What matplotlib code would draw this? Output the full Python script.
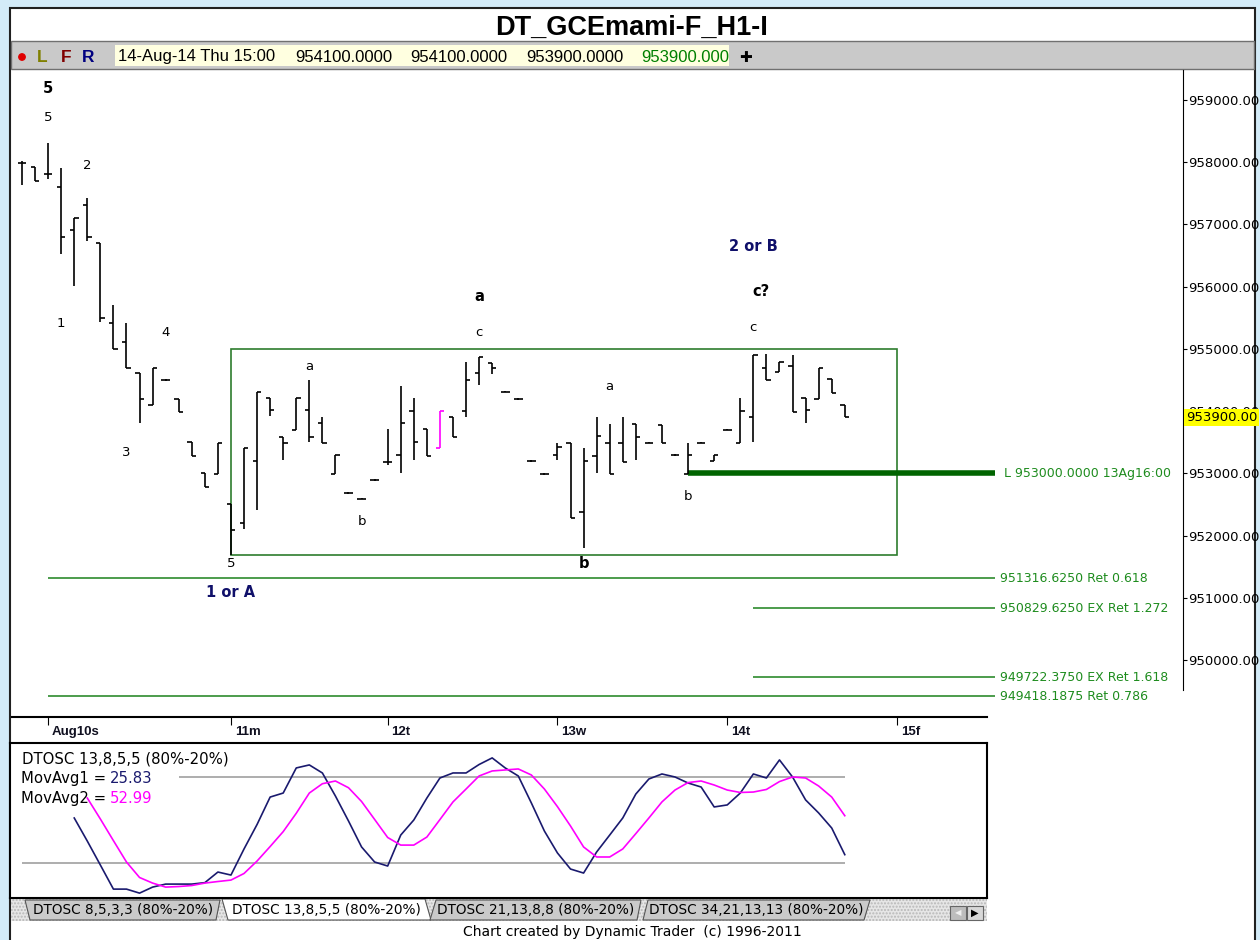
import matplotlib
matplotlib.use('Agg')
import matplotlib.pyplot as plt
from matplotlib.patches import Rectangle, Polygon, Circle
from matplotlib.transforms import blended_transform_factory
from matplotlib.ticker import FuncFormatter

plt.rcParams['font.family'] = ['DejaVu Sans']
LIB = ['Liberation Sans', 'DejaVu Sans']

# %% hourly OHLC bars, 10-Aug .. 14-Aug
bar_open = [957980, 957920, 957810, 957600, 956910, 957310, 956700, 955420, 955110, 954610,
            954100, 954500, 954195, 953500, 953000, 952990, 952510, 952200, 953200, 954210,
            953590, 953700, 954020, 953810, 952990, 952685, 952590, 952895, 953180, 953295,
            954000, 953710, 953410, 953905, 954000, 954610, 954770, 954310, 954195, 953200,
            952990, 953295, 953490, 952380, 953280, 953490, 953490, 953790, 953490, 953775,
            953295, 952985, 953490, 953200, 953700, 953490, 953905, 954690, 954630, 954720,
            954210, 954195, 954515, 954100]
bar_high = [958020, 957920, 958310, 957900, 957100, 957430, 956700, 955705, 955420, 954610,
            954690, 954520, 954195, 953500, 953000, 953490, 952510, 953410, 954310, 954210,
            953590, 954210, 954500, 953905, 953295, 952700, 952600, 952910, 953710, 954400,
            954210, 953710, 954000, 953905, 954790, 954870, 954770, 954320, 954205, 953210,
            953000, 953490, 953490, 953410, 953905, 953790, 953905, 953790, 953500, 953775,
            953305, 953490, 953500, 953295, 953710, 954210, 954900, 954920, 954790, 954900,
            954210, 954690, 954515, 954100]
bar_low = [957630, 957700, 957730, 956525, 956010, 956735, 955430, 955000, 954690, 953810,
           954100, 954480, 953985, 953280, 952780, 952990, 951690, 952100, 952410, 953920,
           953215, 953700, 953500, 953490, 952990, 952670, 952580, 952880, 953135, 953005,
           953215, 953280, 953410, 953585, 953905, 954420, 954600, 954300, 954185, 953190,
           952980, 953215, 952280, 951800, 953005, 952990, 953180, 953215, 953480, 953490,
           953285, 952985, 953480, 953200, 953690, 953490, 953500, 954500, 954630, 953985,
           953810, 954195, 954290, 953905]
bar_close = [957980, 957700, 957810, 956800, 957100, 956800, 955500, 955000, 954690, 954195,
             954690, 954500, 953985, 953280, 952780, 953490, 952090, 953410, 954310, 954020,
             953490, 954210, 953590, 953490, 953295, 952685, 952590, 952895, 953180, 953810,
             953500, 953280, 954000, 953585, 954500, 954870, 954690, 954310, 954195, 953200,
             952990, 953420, 952280, 953200, 953600, 952990, 953180, 953580, 953490, 953490,
             953295, 953295, 953490, 953295, 953700, 954000, 954900, 954500, 954790, 953985,
             954020, 954690, 954290, 953900]
pink_bar = 32

# DTOSC 13,8,5,5 and its moving average
osc_start = 4
osc_line = [51.4, 35.3, 18.6, 1.8, 1.8, -1.0, 3.2, 5.3, 5.3, 5.3, 6.3, 13.7, 11.6, 29.8, 46.9,
            66.0, 68.8, 86.3, 88.4, 82.8, 66.7, 49.3, 31.2, 20.7, 17.9, 39.5, 50.0, 65.3, 79.3,
            82.8, 82.8, 88.7, 93.3, 86.3, 80.7, 61.9, 42.3, 27.0, 15.8, 13.0, 27.7, 39.5, 51.4,
            68.1, 78.6, 82.1, 80.0, 75.8, 73.0, 59.1, 60.5, 68.8, 82.1, 79.3, 91.9, 80.0, 64.0,
            54.9, 44.4, 25.83]
ma_start = 5
ma_line = [65.3, 50.7, 35.6, 20.7, 9.9, 6.0, 3.2, 3.6, 4.3, 6.0, 7.1, 8.1, 12.7, 21.4, 31.5,
           41.9, 54.7, 68.8, 75.3, 77.2, 72.5, 62.9, 50.4, 37.8, 32.5, 32.5, 38.1, 50.3, 62.6,
           71.6, 80.7, 84.2, 84.9, 85.6, 81.4, 71.6, 59.3, 45.8, 31.2, 24.2, 24.2, 29.8, 40.5,
           51.4, 62.6, 70.9, 76.1, 77.2, 74.4, 70.9, 69.2, 69.5, 71.3, 76.8, 80.0, 79.3, 73.7,
           66.0, 52.99]
osc_bands = [80, 20]
band_from = [12, 0]

# retracement / extension levels
fib_levels = [951316.625, 950829.625, 949722.375, 949418.1875]
fib_names = ['951316.6250 Ret 0.618', '950829.6250 EX Ret 1.272',
             '949722.3750 EX Ret 1.618', '949418.1875 Ret 0.786']
fib_from = [2, 56, 56, 2]
level_end = 74.5
L_level = 953000.0
L_from = 51
L_name = 'L 953000.0000 13Ag16:00'
last_price = 953900.0

box_x = [16, 67]
box_y = [951690, 955000]

day_ticks = [2, 16, 28, 41, 54, 67]
day_labels = ['Aug10s', '11m', '12t', '13w', '14t', '15f']
price_ticks = list(range(950000, 960000, 1000))

wave_text = ['5', '5', '2', '1', '4', '3', '5', '1 or A', 'a', 'b', 'a', 'c', 'a', 'b', 'b',
             '2 or B', 'c?', 'c']
wave_x = [2, 2, 5, 3, 11, 8, 16, 16, 22, 26, 35, 35, 45, 43, 51, 56, 56.6, 56]
wave_y = [959190, 958725, 957955, 955415, 955270, 953340, 951545, 951080, 954710, 952220,
          955835, 955260, 954390, 951545, 952620, 956640, 955915, 955350]
wave_bold = [1, 0, 0, 0, 0, 0, 0, 1, 0, 0, 1, 0, 0, 1, 0, 1, 1, 0]
wave_navy = [0, 0, 0, 0, 0, 0, 0, 1, 0, 0, 0, 0, 0, 0, 0, 1, 0, 0]

toolbar_text = ['14-Aug-14 Thu 15:00', '954100.0000', '954100.0000', '953900.0000', '953900.000']

# %% figure + window chrome (pixel coordinates)
W, H = 1260, 940
fig = plt.figure(figsize=(W / 100, H / 100), dpi=100)
fig.patch.set_facecolor('#d3ebf8')

bg = fig.add_axes([0, 0, 1, 1], zorder=-5)
bg.set_xlim(0, W)
bg.set_ylim(H, 0)
bg.axis('off')
bg.add_patch(Rectangle((10, 8), 1245, 940, facecolor='white', edgecolor='#202020', lw=1.5))
bg.add_patch(Rectangle((11, 41), 1243, 28, facecolor='#c9c9c9', edgecolor='#707070', lw=1))
bg.add_patch(Rectangle((115, 45), 614, 21, facecolor='#ffffe0', edgecolor='none'))
bg.text(632, 28, 'DT_GCEmami-F_H1-I', ha='center', va='center', fontsize=19.5,
        family=LIB, fontweight='bold', color='black')
bg.add_patch(Circle((22, 57), 3.2, color='#e00000'))
for s, x, c in [('L', 37, '#808000'), ('F', 61, '#800000'), ('R', 82, '#000080')]:
    bg.text(x, 57, s, ha='left', va='center', fontsize=12.5, family=LIB, fontweight='bold',
            color=c)
for s, x, c in zip(toolbar_text, [118, 295, 410, 526, 641],
                   ['black', 'black', 'black', 'black', '#008000']):
    bg.text(x, 57, s, ha='left', va='center', fontsize=12, family=LIB, color=c)
bg.text(746, 57, '\u271a', ha='center', va='center', fontsize=11, color='black')

# tab strip
bg.add_patch(Rectangle((11, 899), 976, 22, facecolor='#e6e6e6', edgecolor='#b8b8b8',
                       hatch='.....', lw=0))
tabs = [('DTOSC 8,5,3,3 (80%-20%)', [(25, 900), (220, 900), (216, 920), (30, 920)], '#cacaca'),
        ('DTOSC 13,8,5,5 (80%-20%)', [(222, 899), (425, 899), (431, 920), (228, 920)], 'white'),
        ('DTOSC 21,13,8,8 (80%-20%)', [(436, 900), (641, 900), (637, 920), (430, 920)], '#cacaca'),
        ('DTOSC 34,21,13,13 (80%-20%)', [(648, 900), (870, 900), (864, 920), (643, 920)], '#cacaca')]
for name, pts, fc in tabs:
    bg.add_patch(Polygon(pts, closed=True, facecolor=fc, edgecolor='#555555', lw=0.8))
    cx = (pts[0][0] + pts[1][0] + pts[2][0] + pts[3][0]) / 4
    bg.text(cx, 910.5, name, ha='center', va='center', fontsize=9.8, color='black')
bg.add_patch(Rectangle((950, 906), 16, 14, facecolor='#bdbdbd', edgecolor='#666666', lw=0.8))
bg.add_patch(Rectangle((967, 906), 16, 14, facecolor='#d8d8d8', edgecolor='#666666', lw=0.8))
bg.text(958, 913, '\u25c0', ha='center', va='center', fontsize=6, color='#f0f0f0')
bg.text(975, 913, '\u25b6', ha='center', va='center', fontsize=7, color='black')
bg.text(632, 932, 'Chart created by Dynamic Trader  (c) 1996-2011', ha='center', va='center',
        fontsize=10, color='black')


def px_to_x(px):
    return (px - 22) / 13.06


def py_to_price(py):
    return 959000 - (py - 100) * 9000 / 560


# %% price panel
ax = fig.add_axes([12 / W, 1 - 717 / H, (1183 - 12) / W, (717 - 70) / H])
ax.set_facecolor('none')
ax.set_xlim(px_to_x(12), px_to_x(1183))
ax.set_ylim(py_to_price(717), py_to_price(70))

n = len(bar_open)
xs = list(range(n))
cols = ['#ff00ff' if i == pink_bar else 'black' for i in xs]
tk = 0.33
ax.vlines(xs, bar_low, bar_high, colors=cols, lw=1.2, zorder=3)
ax.hlines(bar_open, [x - tk for x in xs], xs, colors=cols, lw=1.2, zorder=3)
ax.hlines(bar_close, xs, [x + tk for x in xs], colors=cols, lw=1.2, zorder=3)

ax.add_patch(Rectangle((box_x[0], box_y[0]), box_x[1] - box_x[0], box_y[1] - box_y[0],
                       fill=False, edgecolor='#2e7d2e', lw=1.2, zorder=2))

ax.hlines(fib_levels, fib_from, level_end, colors='#2e8b2e', lw=1.2, zorder=2)
ax.hlines(L_level, L_from, level_end, colors='#006400', lw=4, zorder=2)
for lvl, name in zip(fib_levels + [L_level], fib_names + [L_name]):
    ax.text(level_end + 0.4 + (0.3 if name == L_name else 0), lvl, name, ha='left',
            va='center', fontsize=9, color='#1e8c1e')

for s, x, y, b, nv in zip(wave_text, wave_x, wave_y, wave_bold, wave_navy):
    ax.text(x, y, s, ha='center', va='center', fontsize=10.5 if b else 9.5,
            fontweight='bold' if b else 'normal', color='#10106a' if nv else 'black')

for side in ['left', 'top']:
    ax.spines[side].set_visible(False)
ax.spines['right'].set_bounds(py_to_price(690), py_to_price(70))
ax.spines['bottom'].set_bounds(px_to_x(12), px_to_x(987))
ax.spines['bottom'].set_linewidth(1.5)
ax.yaxis.tick_right()
ax.set_yticks(price_ticks)
ax.yaxis.set_major_formatter(FuncFormatter(lambda v, p: '%.2f' % v))
ax.tick_params(axis='y', direction='out', length=3, pad=1, labelsize=9.5)
ax.set_xticks(day_ticks)
ax.tick_params(axis='x', direction='out', length=6, labelbottom=False)
tr = blended_transform_factory(ax.transData, ax.transAxes)
for x, s in zip(day_ticks, day_labels):
    ax.text(x + 0.3, -0.023, s, transform=tr, ha='left', va='center', fontsize=9.5,
            family=LIB, fontweight='bold', color='#101020', clip_on=False)
tr2 = blended_transform_factory(ax.transAxes, ax.transData)
ax.text(1.0025, last_price, '%.2f' % last_price, transform=tr2, ha='left', va='center',
        fontsize=9.5, zorder=10, clip_on=False,
        bbox=dict(facecolor='#ffff00', edgecolor='none', pad=1.2))

# %% oscillator panel
ox = fig.add_axes([10 / W, 1 - 898 / H, (987 - 10) / W, (898 - 743) / H])
ox.set_xlim(px_to_x(10), px_to_x(987))
ox.set_ylim(-4.4, 103.7)
ox.set_xticks([])
ox.set_yticks([])
for sp in ox.spines.values():
    sp.set_linewidth(1.5)
ox.hlines(osc_bands, band_from, n - 1, colors='#a0a0a0', lw=1.2)
ox.plot(range(osc_start, osc_start + len(osc_line)), osc_line, color='#1a1a6e', lw=1.2)
ox.plot(range(ma_start, ma_start + len(ma_line)), ma_line, color='#ff00ff', lw=1.2)
ox.text(0.012, 0.9, 'DTOSC 13,8,5,5 (80%-20%)', transform=ox.transAxes, fontsize=10.7,
        ha='left', va='center')
ox.text(0.011, 0.77, 'MovAvg1 =', transform=ox.transAxes, fontsize=10.7, ha='left', va='center')
ox.text(0.102, 0.77, '%.2f' % osc_line[-1], transform=ox.transAxes, fontsize=10.7,
        ha='left', va='center', color='#1a1a6e')
ox.text(0.011, 0.64, 'MovAvg2 =', transform=ox.transAxes, fontsize=10.7, ha='left', va='center')
ox.text(0.102, 0.64, '%.2f' % ma_line[-1], transform=ox.transAxes, fontsize=10.7,
        ha='left', va='center', color='#ff00ff')

fig.savefig('out.png', dpi=100)
